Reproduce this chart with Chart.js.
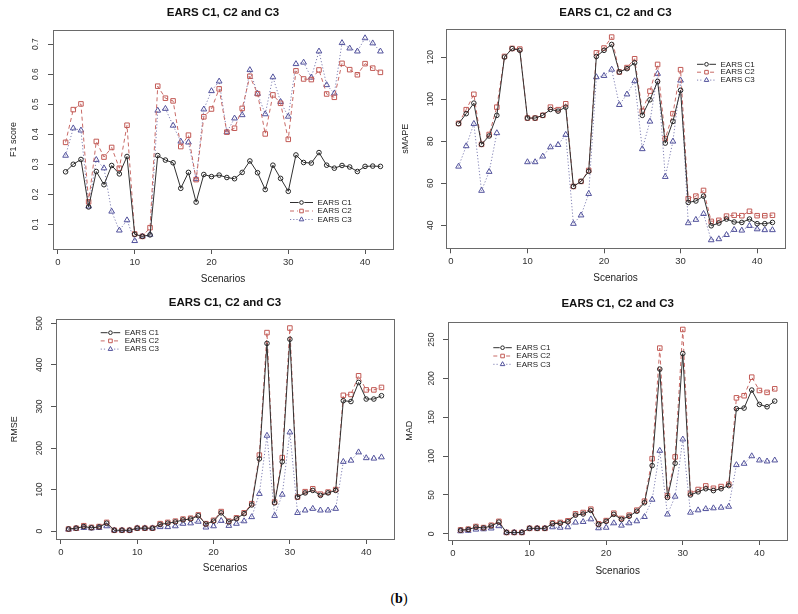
<!DOCTYPE html>
<html>
<head>
<meta charset="utf-8">
<script src="https://cdn.jsdelivr.net/npm/chart.js@4.4.0/dist/chart.umd.min.js"></script>
<style>
  body { margin: 0; background: #fff; width: 798px; height: 614px; position: relative; overflow: hidden; }
  canvas { position: absolute; }
  #tag { position: absolute; left: 0; width: 798px; top: 591px; text-align: center;
         font: 14px "Liberation Serif", "DejaVu Serif", serif; color: #000; }
</style>
</head>
<body>
<canvas id="f1" width="399" height="300" style="left:0;top:0"></canvas>
<canvas id="smape" width="402" height="300" style="left:396px;top:0"></canvas>
<canvas id="rmse" width="399" height="300" style="left:0;top:290px"></canvas>
<canvas id="mad" width="402" height="300" style="left:396px;top:290px"></canvas>
<div id="tag">(<b>b</b>)</div>
<script>
// scenarios on the x axis
const scenarios = [1,2,3,4,5,6,7,8,9,10,11,12,13,14,15,16,17,18,19,20,21,
                   22,23,24,25,26,27,28,29,30,31,32,33,34,35,36,37,38,39,40,41,42];
const xTicks = [0, 10, 20, 30, 40];
const seriesNames = ['EARS C1', 'EARS C2', 'EARS C3'];
const panelTitle = 'EARS C1, C2 and C3';

// F1 score
const f1Ticks = [0.1, 0.2, 0.3, 0.4, 0.5, 0.6, 0.7];
const f1C1 = [0.275,0.30,0.316,0.158,0.276,0.232,0.296,0.268,0.326,0.067,0.06,0.065,0.329,0.314,0.305,0.22,0.273,0.174,0.266,
              0.259,0.264,0.256,0.252,0.273,0.311,0.272,0.216,0.297,0.253,0.21,0.331,0.306,0.304,0.339,0.297,0.287,0.296,0.291,0.276,0.293,0.294,0.293];
const f1C2 = [0.373,0.482,0.501,0.175,0.376,0.324,0.356,0.287,0.43,0.068,0.06,0.089,0.56,0.52,0.511,0.359,0.397,0.249,0.458,
              0.484,0.551,0.407,0.42,0.486,0.593,0.535,0.401,0.531,0.503,0.383,0.611,0.584,0.582,0.614,0.534,0.523,0.636,0.615,0.598,0.635,0.62,0.606];
const f1C3 = [0.329,0.42,0.413,0.16,0.315,0.287,0.143,0.08,0.114,0.045,0.06,0.066,0.479,0.485,0.429,0.376,0.373,0.251,0.483,
              0.544,0.576,0.407,0.453,0.464,0.614,0.535,0.467,0.59,0.508,0.459,0.634,0.639,0.589,0.676,0.564,0.536,0.704,0.686,0.676,0.72,0.703,0.676];

// sMAPE
const smapeTicks = [40, 60, 80, 100, 120];
const smapeC1 = [88.3,93.1,98.1,78.5,82.5,92.3,120,124,123.2,91,91,92.3,95.1,94.3,96.2,58.5,60.9,65.7,120.3,123.2,126,
                 112.9,114.5,117.3,92.3,99.7,108.4,79.1,89.4,104.2,50.9,51.6,53.9,39.8,41.1,43,41.6,41.4,43,40.8,40.8,41.4];
const smapeC2 = [88.5,95,102.3,78.5,83.2,96.2,120.3,124.1,123.8,91,91,92.3,96.2,95,97.8,58.5,60.9,66.1,122,124.3,129.5,
                 112.9,115,119.2,94.3,103.8,116.5,81.2,93.1,114,52.7,53.9,56.6,41.9,42.4,44.4,44.8,44.6,46.7,44.6,44.6,44.8];
const smapeC3 = [68,77.7,88.3,56.5,65.5,83.9,null,null,null,70.1,70.1,72.8,77.2,78.3,83.1,40.8,44.8,55,110.5,111.1,114.1,
                 97.3,102.3,108.6,76.3,89.4,112.1,63.1,79.9,108.9,41.1,42.7,45.5,33,33.5,35.5,37.9,37.6,39.8,38.2,37.8,37.8];

// RMSE
const rmseTicks = [0, 100, 200, 300, 400, 500];
const rmseC1 = [5,7,11,8,10,19,2,2,2,7,7,7,16,19,22,27,29,37,17,24,44,22,30,42,63,174,452,68,167,462,82,92,98,86,92,98,314,312,358,318,318,326];
const rmseC2 = [5,7,13,9,11,21,2,2,2,7,7,7,18,21,24,29,31,39,18,26,47,24,32,44,66,183,478,70,177,489,82,95,102,89,94,100,327,329,374,340,340,346];
const rmseC3 = [4,6,8,7,8,12,2,2,2,7,7,7,10,10,12,18,19,23,9,12,25,13,18,24,34,90,230,37,88,238,44,50,54,50,50,54,167,170,190,176,175,178];

// MAD
const madTicks = [0, 50, 100, 150, 200, 250];
const madC1 = [4.5,5.5,8.5,7.5,10,15,1.7,1.7,1.7,7,7,7,13,13.5,15.5,24,25.5,30,12,16,25,18.5,22.5,29,40,87.8,212,46.7,90.8,232,
               50,54,58,55.6,58,62,161,161.8,185,166.5,163.5,170.8];
const madC2 = [5,6,9.4,8,11,16,1.7,1.7,1.7,7,7,7,14,14.6,16.7,25.7,27.4,31.7,12.8,17,26.5,19.7,24,30.4,42,96.7,239,49,99,263,
               52,57,61.6,58.6,60.8,63.8,175,177.7,201.6,184.5,182,186.6];
const madC3 = [3.4,4,5.6,6,7,10,1.7,1.7,1.7,7,7,7,8.6,8,8.6,14.6,15.4,18.8,7.3,8,13.7,10.7,13.7,16.3,21.8,44,107,25,48,121.6,
               27.4,30.4,32,33,33.8,35,88.6,90.3,100,94.6,93.3,94.6];

const fam = '"Liberation Sans", Arial, Helvetica, sans-serif';
const styles = [
  { color: '#262626', line: '#303030', dash: [], point: 'circle', r: 2.3 },
  { color: '#c25a55', line: '#c86a66', dash: [4, 3], point: 'rect', r: 3.2 },
  { color: '#52529c', line: '#8080b4', dash: [1.2, 2], point: 'triangle', r: 3.3 }
];

function marker(ctx, style, x, y, r, color) {
  ctx.save();
  ctx.strokeStyle = color; ctx.lineWidth = 1; ctx.setLineDash([]);
  ctx.beginPath();
  if (style === 'circle') {
    ctx.arc(x, y, r, 0, Math.PI * 2);
  } else if (style === 'rect') {
    const s = r * Math.SQRT1_2;
    ctx.rect(x - s, y - s, 2 * s, 2 * s);
  } else {
    ctx.moveTo(x, y - r);
    ctx.lineTo(x + r * 0.866, y + r * 0.5);
    ctx.lineTo(x - r * 0.866, y + r * 0.5);
    ctx.closePath();
  }
  ctx.stroke();
  ctx.restore();
}

// R style box around the plot region
const rBox = {
  id: 'rBox',
  beforeDatasetsDraw(chart) {
    const a = chart.chartArea, ctx = chart.ctx;
    ctx.save();
    ctx.strokeStyle = '#6a6a6a';
    ctx.lineWidth = 1;
    ctx.strokeRect(Math.round(a.left) + 0.5, Math.round(a.top) + 0.5,
                   Math.round(a.right - a.left), Math.round(a.bottom - a.top));
    ctx.restore();
  }
};

// legend drawn inside the plot, like R's legend()
const rLegend = {
  id: 'rLegend',
  afterDatasetsDraw(chart, args, o) {
    const ctx = chart.ctx;
    chart.data.datasets.forEach((ds, i) => {
      const st = styles[i];
      const y = o.y + i * o.dy;
      const mx = o.x + o.w / 2;
      const r = st.r * 0.8;
      ctx.save();
      ctx.strokeStyle = st.line;
      ctx.lineWidth = 1;
      ctx.setLineDash(st.dash);
      ctx.beginPath();
      ctx.moveTo(o.x, y); ctx.lineTo(mx - r - 1, y);
      ctx.moveTo(mx + r + 1, y); ctx.lineTo(o.x + o.w, y);
      ctx.stroke();
      ctx.restore();
      marker(ctx, st.point, mx, y, r, st.color);
      ctx.save();
      ctx.fillStyle = '#222';
      ctx.font = '8px ' + fam;
      ctx.textBaseline = 'middle';
      ctx.fillText(ds.label, o.x + o.w + 4.5, y);
      ctx.restore();
    });
  }
};

function dataset(i, vals) {
  const st = styles[i];
  return {
    label: seriesNames[i],
    data: scenarios.map((s, k) => ({ x: s, y: vals[k] })),
    borderColor: st.line,
    borderWidth: 1,
    borderDash: st.dash,
    pointStyle: st.point,
    pointRadius: st.r,
    pointBorderWidth: 1,
    pointBorderColor: st.color,
    pointBackgroundColor: 'rgba(0,0,0,0)',
    fill: false,
    tension: 0,
    spanGaps: false
  };
}

function makePanel(p) {
  new Chart(document.getElementById(p.id), {
    type: 'line',
    data: { datasets: [dataset(0, p.c1), dataset(1, p.c2), dataset(2, p.c3)] },
    options: {
      responsive: false,
      animation: false,
      devicePixelRatio: 1,
      layout: { padding: { top: 0, left: 0, bottom: 0, right: p.padR } },
      plugins: {
        legend: { display: false },
        tooltip: { enabled: false },
        title: {
          display: true, text: panelTitle, fullSize: false, color: '#111',
          font: { family: fam, size: 11.5, weight: 'bold', lineHeight: 1.2 },
          padding: { top: p.tT, bottom: p.tB }
        },
        rLegend: p.legend
      },
      scales: {
        x: {
          type: 'linear', min: -0.64, max: 43.64,
          afterBuildTicks: s => { s.ticks = xTicks.map(v => ({ value: v })); },
          afterFit: s => { s.height = p.xH; },
          grid: { drawOnChartArea: false, tickLength: 5, color: '#555' },
          border: { display: false },
          ticks: { padding: 2.5, color: '#333', font: { family: fam, size: 9.5 } },
          title: { display: true, text: 'Scenarios', color: '#222',
                   font: { family: fam, size: 10, lineHeight: 1.2 }, padding: { top: 0, bottom: p.xtB } }
        },
        y: {
          type: 'linear', min: p.yMin, max: p.yMax,
          afterBuildTicks: s => { s.ticks = p.ticks.map(v => ({ value: v })); },
          afterFit: s => { s.width = p.yW; },
          grid: { drawOnChartArea: false, tickLength: 5, color: '#555' },
          border: { display: false },
          ticks: { minRotation: 90, maxRotation: 90, crossAlign: 'center', padding: p.ytP,
                   color: '#333', font: { family: fam, size: 8.5 } },
          title: { display: true, text: p.yTitle, color: '#222',
                   font: { family: fam, size: 9, lineHeight: 1.2 }, padding: { top: p.ytT, bottom: 0 } }
        }
      }
    },
    plugins: [rBox, rLegend]
  });
}

makePanel({ id: 'f1', yTitle: 'F1 score', c1: f1C1, c2: f1C2, c3: f1C3, ticks: f1Ticks,
  yMin: 0.018, yMax: 0.747, padR: 6, tT: 6.1, tB: 10.1, xH: 51, yW: 53, xtB: 14.7, ytT: 8.1, ytP: 6.7,
  legend: { x: 290, w: 23, y: 202.5, dy: 8.5 } });

makePanel({ id: 'smape', yTitle: 'sMAPE', c1: smapeC1, c2: smapeC2, c3: smapeC3, ticks: smapeTicks,
  yMin: 29.1, yMax: 133.2, padR: 13, tT: 5.8, tB: 9.7, xH: 51.7, yW: 50, xtB: 15.7, ytT: 4.6, ytP: 3.6,
  legend: { x: 301, w: 19, y: 64.3, dy: 7.9 } });

makePanel({ id: 'rmse', yTitle: 'RMSE', c1: rmseC1, c2: rmseC2, c3: rmseC3, ticks: rmseTicks,
  yMin: -19, yMax: 510, padR: 4, tT: 6.1, tB: 9.4, xH: 51, yW: 56, xtB: 15.7, ytT: 9.6, ytP: 4.3,
  legend: { x: 100.7, w: 19.5, y: 42.7, dy: 8.2 } });

makePanel({ id: 'mad', yTitle: 'MAD', c1: madC1, c2: madC2, c3: madC3, ticks: madTicks,
  yMin: -8, yMax: 273, padR: 10.7, tT: 7.1, tB: 10.8, xH: 50, yW: 52, xtB: 13, ytT: 7.9, ytP: 3.9,
  legend: { x: 97.3, w: 18.5, y: 57.7, dy: 8.3 } });
</script>
</body>
</html>
